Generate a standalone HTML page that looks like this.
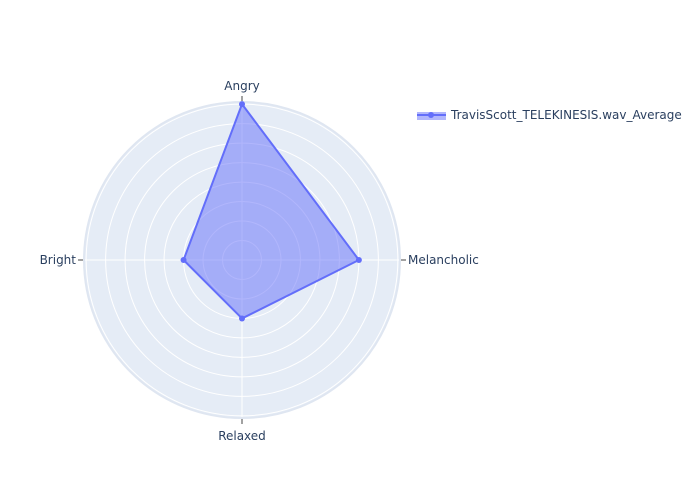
<!DOCTYPE html>
<html><head><meta charset="utf-8"><style>body{margin:0;background:#fff}svg{display:block;font-family:"DejaVu Sans","Liberation Sans",sans-serif}</style></head>
<body>
<svg id="chart" width="700" height="500">
<g id="grid"></g><g id="data"></g><g id="labels"></g>
<g>
<rect x="417" y="112" width="29" height="8" fill="rgba(99,110,250,0.5)"/>
<line x1="417" y1="115" x2="446" y2="115" stroke="#636efa" stroke-width="2"/>
<circle cx="431" cy="115" r="3" fill="#636efa"/>
<text x="451" y="119" font-size="12" fill="#2a3f5f">TravisScott_TELEKINESIS.wav_Average</text>
</g>
</svg>
<script>
const categories=["Angry","Melancholic","Relaxed","Bright"];
const values=[8,6,3,3];
const ringTicks=[1,2,3,4,5,6,7,8];
const rMax=8.11;
const cx=242,cy=260,R=158;
const ns="http://www.w3.org/2000/svg";
function rs(v){return v/rMax*R;}
function pt(i,v){const a=Math.PI/2-i*2*Math.PI/categories.length;return [cx+rs(v)*Math.cos(a),cy-rs(v)*Math.sin(a)];}
function mk(tag,attrs,parent){const e=document.createElementNS(ns,tag);for(const k in attrs)e.setAttribute(k,attrs[k]);parent.appendChild(e);return e;}
const g=document.getElementById('grid');
const bg=mk('circle',{cx,cy,r:R,fill:'#e5ecf6'},g);


ringTicks.forEach(t=>{const c=mk('circle',{cx,cy,r:rs(t),fill:'none',stroke:'#fff','stroke-width':1},g);

});
const L=document.getElementById('labels');
categories.forEach((c,i)=>{const a=Math.PI/2-i*2*Math.PI/categories.length;const ca=Math.cos(a),sa=Math.sin(a);
const sp=mk('line',{x1:cx,y1:cy,x2:cx+R*ca,y2:cy-R*sa,stroke:'#fff','stroke-width':1},g);


const tk=mk('line',{x1:cx+(R+1)*ca,y1:cy-(R+1)*sa,x2:cx+(R+6)*ca,y2:cy-(R+6)*sa,stroke:'#444','stroke-width':1},L);


let x=cx+(R+8)*ca,y=cy-(R+8)*sa+4,anc='middle';
if(Math.abs(ca)>0.5){anc=ca>0?'start':'end';}else{y=sa>0?cy-(R+12):cy+(R+12)+10;}
const t=mk('text',{x,y,'text-anchor':anc,'font-size':12,fill:'#2a3f5f'},L);t.textContent=c;

});
const outer=mk('circle',{cx,cy,r:R,fill:'none',stroke:'#dfe6f1','stroke-width':2},g);


const D=document.getElementById('data');
const pts=values.map((v,i)=>pt(i,v));
const poly=mk('polygon',{points:pts.map(p=>p.join(',')).join(' '),fill:'rgba(99,110,250,0.5)',stroke:'#636efa','stroke-width':2,'stroke-linejoin':'round'},D);


pts.forEach((p,i)=>{const c=mk('circle',{cx:p[0],cy:p[1],r:3,fill:'#636efa'},D);

});
</script>
</body></html>
